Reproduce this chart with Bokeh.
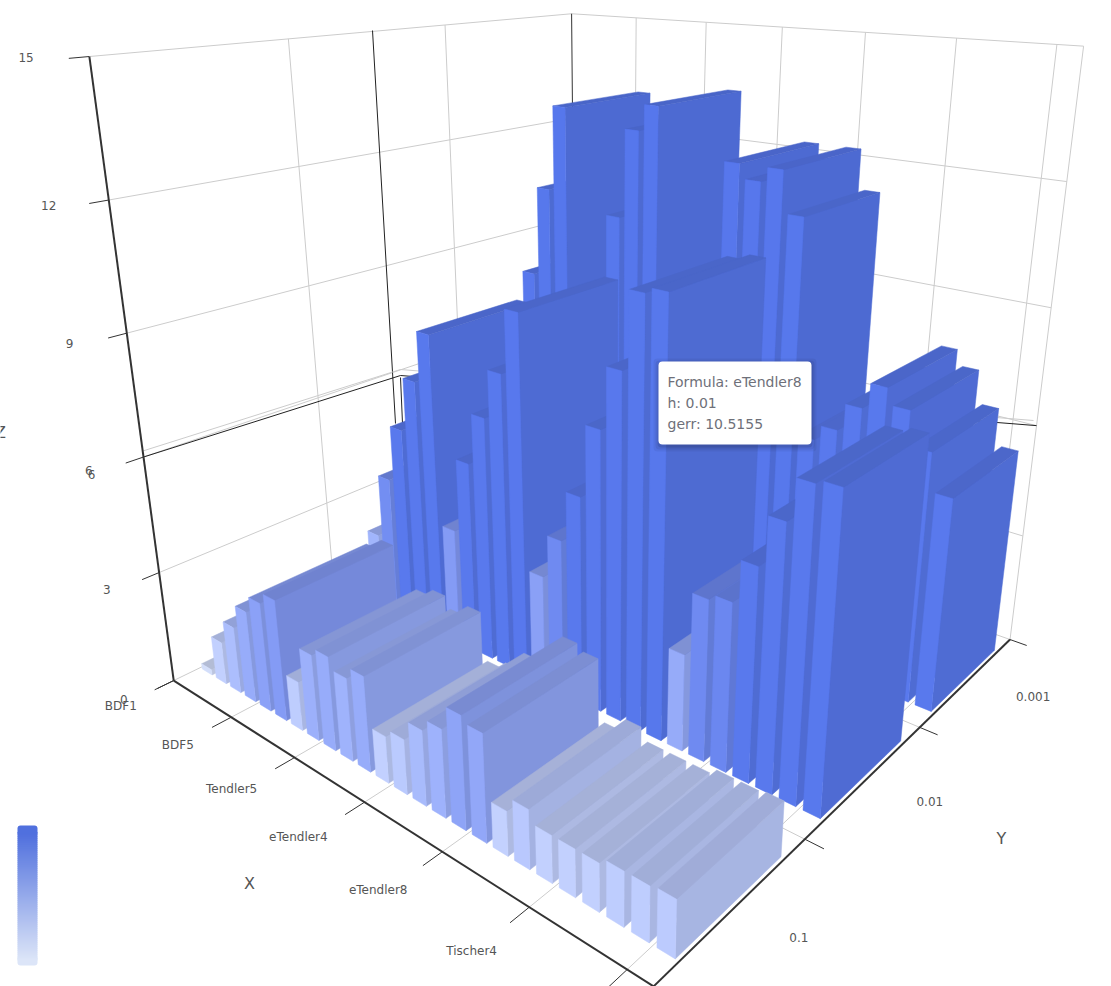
import numpy as np
from bokeh.plotting import figure
from bokeh.models import Range1d
from bokeh.core.properties import value
from bokeh.embed import file_html
from bokeh.resources import INLINE

formulas = ["BDF1","BDF2","BDF3","BDF4","BDF5","BDF6",
            "Tendler3","Tendler4","Tendler5","Tendler6","Tendler7",
            "eTendler3","eTendler4","eTendler5","eTendler6","eTendler7","eTendler8",
            "Tischer1","Tischer2","Tischer3","Tischer4","Tischer5","Tischer6","Tischer7","Tischer8"]
hs = ["0.1","0.01","0.001"]
gerr_h01 = [0.15,1.15,1.8,2.45,2.9,3.2, 1.3,2.25,2.45,2.15,2.45, 1.2,1.4,1.9,2.2,2.8,2.65, 1.1,1.45,1.15,1.15,1.15,1.3,1.3,1.35]
gerr_h001 = [0.2,2.1,3.9,5.45,6.9,8.25, 3.2,5.2,6.55,7.8,9.4, 2.95,4.1,5.4,7.2,8.7,10.5155, 10.65,2.5,4.1,4.25,5.3,6.5,7.5,7.6]
gerr_h0001 = [0.5,3.0,5.0,8.5,10.9,13.1, 3.0,6.0,10.5,12.75,13.4, 4.0,7.0,9.5,12.3,11.95,12.3, 11.3,6.0,6.4,7.1,7.75,7.35,6.5,5.55]
rows = [gerr_h01, gerr_h001, gerr_h0001]
z_ticks = [0,3,6,9,12,15]
z_max = 15.0
x_label_idx = [0,4,8,12,16,20]
x_label_dx = [0,0,-9,-12,-10,-4]
y_label_dx = [0,4,10]

# camera calibration: (u,v,w) in the unit box -> screen
calib = [
 (0,0,0,173,680),(1,0,0,655,986),(1,1,0,1010,640),
 (0,0,1,90,55),(0,1,1,572,13),(1,1,1,1082,45),
 (0,0,.2,158,572),(0,0,.4,143,457),(0,0,.6,125,335),(0,0,.8,108,200),
 (4/25,0,0,232,715),(8/25,0,0,293,757),(16/25,0,0,442,850),(20/25,0,0,528,907),(24/25,0,0,627,970),
 (1,1/3,0,805,838),(1,2/3,0,918,727),
]
A = []
for u,v,w,x,y in calib:
    x/=1000; y/=1000
    A.append([u,v,w,1,0,0,0,0,-x*u,-x*v,-x*w,-x])
    A.append([0,0,0,0,u,v,w,1,-y*u,-y*v,-y*w,-y])
P = np.linalg.svd(np.array(A))[2][-1].reshape(3,4)
def proj(u,v,w):
    q = P @ np.array([u,v,w,1.0])
    return q[0]/q[2]*1000, q[1]/q[2]*1000

# colour ramp
z_st = [0,1.2,2.2,3.2,5,15]
r_st = [214,194,158,132,90,86]
g_st = [224,208,178,155,122,119]
b_st = [250,255,252,245,238,236]
def col(z,f=1.0):
    return "#%02x%02x%02x" % tuple(int(min(255,np.interp(z,z_st,s)*f)) for s in (r_st,g_st,b_st))

p = figure(width=1111,height=986,x_range=Range1d(0,1111),y_range=Range1d(986,0),
           x_axis_type=None,y_axis_type=None,toolbar_location=None,output_backend="svg",
           min_border=0,outline_line_color=None,background_fill_color="white")
p.grid.visible=False

def seg(pts,color,w=1,dash="solid"):
    xs,ys=zip(*pts)
    p.line(list(xs),list(ys),line_color=color,line_width=w,line_dash=dash)
def seg3(a,b,color,w=1):
    seg([proj(*a),proj(*b)],color,w)

GR="#cccccc"; DK="#333333"
us=[i/25 for i in x_label_idx[1:]]+[24/25]
vs=[1/3,2/3]
# floor grid
for u in us: seg3((u,0,0),(u,1,0),GR)
for v in vs: seg3((0,v,0),(1,v,0),GR)
# walls
for t in z_ticks[1:]:
    w=t/z_max
    seg([proj(0,0,w),proj(0,1,w),proj(1,1,w)],GR)
for v in vs: seg3((0,v,0),(0,v,1),GR)
for u in us: seg3((u,1,0),(u,1,1),GR)
seg3((0,0,0),(0,1,0),GR); seg3((0,1,0),(1,1,0),GR); seg3((1,1,0),(1,1,1),GR)
seg3((0,1,0),(0,1,1),DK,1)
# second frame seen through the box
seg([proj(0,0,.4),(400,375),proj(1,1,.4)],"#222222",1)
seg([(372,30),(395,423)],"#222222",1)
seg([(400,377),(402,423)],"#222222",1)
seg([proj(0,0,.41),(400,369),(1033,420)],GR,1)

# bars, far to near
xs=[];ys=[];cs=[]
def face(pts,c):
    q=[proj(*t) for t in pts]
    xs.append([a for a,_ in q]); ys.append([b for _,b in q]); cs.append(c)
n=len(formulas)
for j in (2,1,0):
    for i in range(n):
        z=rows[j][i]; w=z/z_max
        u0,u1=(i+.15)/n,(i+.85)/n
        v0,v1=(j+.15)/3,(j+.85)/3
        face([(u1,v0,0),(u1,v1,0),(u1,v1,w),(u1,v0,w)],col(z,.89))
        face([(u0,v0,w),(u1,v0,w),(u1,v1,w),(u0,v1,w)],col(z,.85))
        face([(u0,v0,0),(u1,v0,0),(u1,v0,w),(u0,v0,w)],col(z,1))
p.patches(xs,ys,fill_color=cs,line_color=cs,line_width=0.5)

# axes
seg3((0,0,0),(1,0,0),DK,2); seg3((1,0,0),(1,1,0),DK,2); seg3((0,0,0),(0,0,1),DK,2)
for u in [0]+us: seg3((u,0,0),(u,-.035,0),DK)
for v in vs+[1]: seg3((1,v,0),(1.03,v,0),DK)
for t in z_ticks: seg3((0,0,t/z_max),(0,-.03,t/z_max),DK)

# labels
F=value("DejaVu Sans")
def txt(x,y,s,size="12px",c="#555555",align="center",base="middle"):
    p.text([x],[y],text=[s],text_font=F,text_font_size=size,text_color=c,text_align=align,text_baseline=base)
for i,dx in zip(x_label_idx,x_label_dx):
    x,y=proj(i/n,-.095,0); txt(x+dx,y,formulas[i])
for j,h in enumerate(hs):
    x,y=proj(1.095,(j+.5)/3,0); txt(x+y_label_dx[j],y-6,h)
for t in z_ticks:
    x,y=proj(0,-.09,t/z_max); txt(x,y-5,str(t))
txt(91,474,"6")
txt(249,883,"X","16px"); txt(1001,838,"Y","16px"); txt(0,432,"Z","16px")

# visual map
top_c=np.array([80,112,222]); bot_c=np.array([220,229,248])
def mix(t):
    return "#%02x%02x%02x" % tuple(int(a) for a in bot_c+(top_c-bot_c)*t)
p.quad(left=[17],right=[37],top=[825],bottom=[835],fill_color=mix(1),line_color=None,border_radius=3)
p.quad(left=[17],right=[37],top=[955],bottom=[965],fill_color=mix(0),line_color=None,border_radius=3)
for k in range(64):
    y1=960-k*2
    p.quad(left=[17],right=[37],bottom=[y1],top=[y1-2.4],fill_color=mix(k/63),line_color=None)

# tooltip
for d,a in ((5,.05),(3,.07),(1,.1)):
    p.quad(left=[658-d],right=[811+d],top=[361-d+2],bottom=[444+d+2],fill_color="#000000",fill_alpha=a,line_color=None,border_radius=4)
p.quad(left=[658],right=[811],top=[361],bottom=[444],fill_color="white",line_color=None,border_radius=4)
for y,s in ((381,"Formula: eTendler8"),(402,"h: 0.01"),(423,"gerr: 10.5155")):
    txt(667,y,s,"14px","#6e7079","left")

open("out.html","w").write(file_html(p,INLINE))
